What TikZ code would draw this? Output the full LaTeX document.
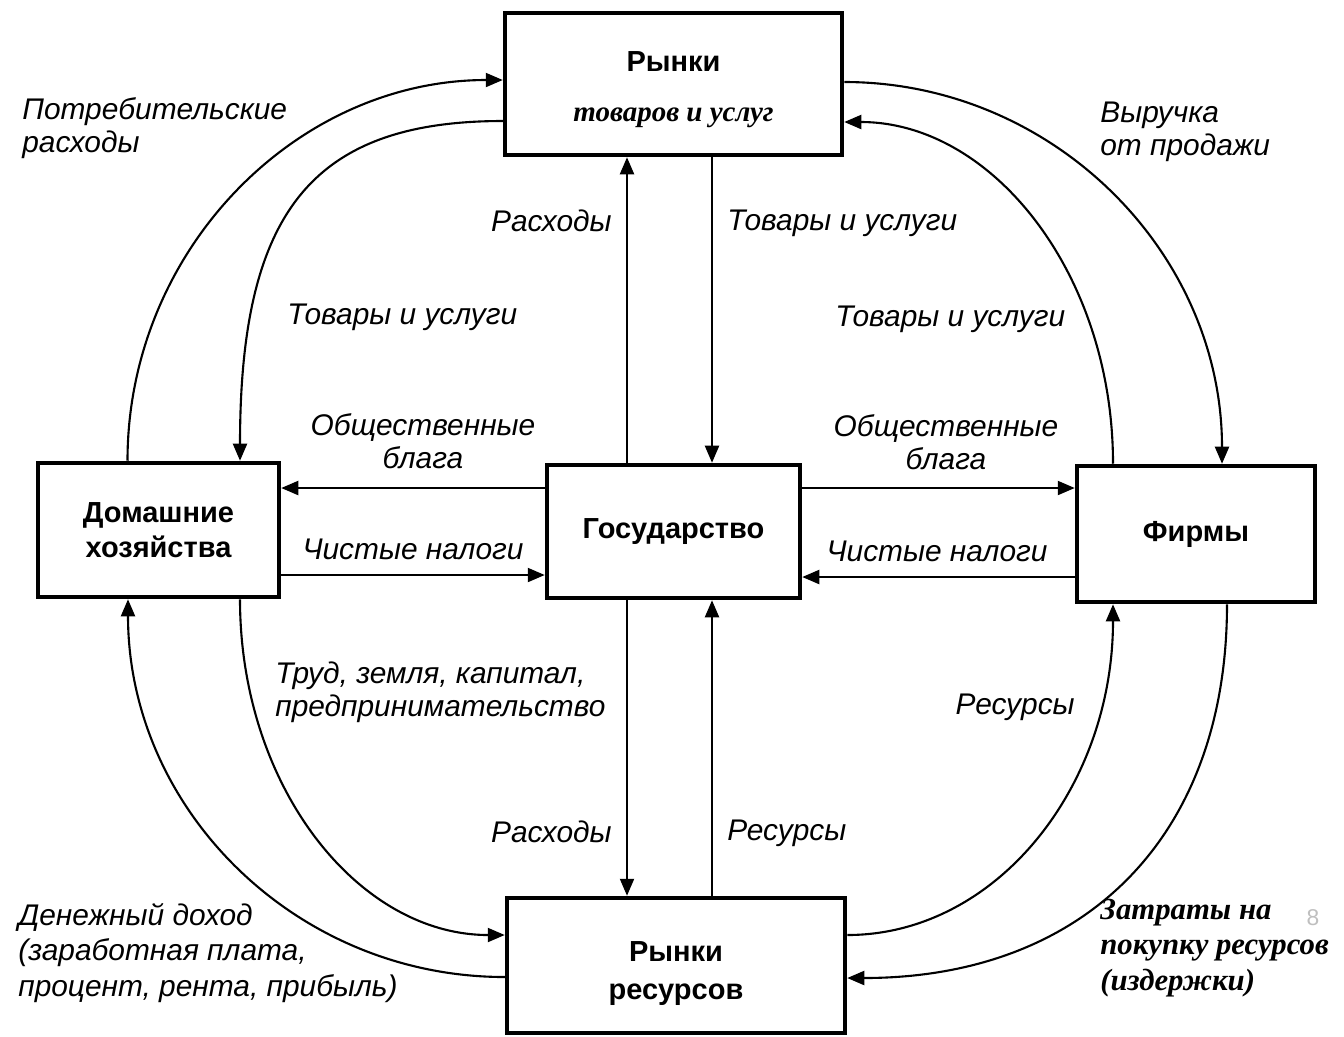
\documentclass[tikz,border=0pt]{standalone}
\usepackage{fontspec}
\setmainfont{Liberation Sans}
\newfontfamily\timesfont{Liberation Serif}
\usetikzlibrary{arrows.meta,calc}

\tikzset{
    box/.style={draw, line width=2.6pt, font=\bfseries\fontsize{16.5}{20}\selectfont, align=center},
    boxtxt/.style={font=\bfseries\fontsize{16.5}{21.5}\selectfont, align=center, inner sep=0pt},
    flow/.style={line width=1.2pt, -{Triangle[length=0.34cm,width=0.28cm]}},
    lbl/.style={font=\itshape\fontsize{17}{19}\selectfont, inner sep=0pt, align=left},
    serlbl/.style={font=\timesfont\bfseries\itshape\fontsize{17.5}{20}\selectfont, inner sep=0pt, align=left},
}

\begin{document}
\begin{tikzpicture}[x=0.02cm, y=-0.02cm]
        \useasboundingbox (0,0) rectangle (1344,1036);

        \node [box, minimum width=6.74cm, minimum height=2.84cm] (tovar) at (673.5,84) {};
        \node [boxtxt] (tovarT) at ($(tovar)+(0,5.5)$) {Рынки\\[7pt]{\timesfont\itshape товаров и услуг}};
        \node [box, minimum width=4.82cm, minimum height=2.68cm] (dom) at (158.5,530) {Домашние\\хозяйства};
        \node [box, minimum width=5.06cm, minimum height=2.66cm] (gos) at (673.5,531.5) {Государство};
        \node [box, minimum width=4.76cm, minimum height=2.72cm] (firm) at (1196,534) {Фирмы};
        \node [box, minimum width=6.76cm, minimum height=2.70cm] (res) at (676,965.5) {};
        \node [boxtxt] (resT) at ($(res)+(0,8)$) {Рынки\\ресурсов};

        % arcs between households, firms and the two markets
        \draw [flow] ($(dom.north)+(-31,0)$) .. controls +(0,-210) and +(-207,0) .. ($(tovar.west)+(0,-4)$);
        \draw [flow] ($(tovar.west)+(0,37)$) .. controls +(-192,0) and +(0,-247) .. ($(dom.north)+(81.5,0)$);
        \draw [flow] ($(tovar.east)+(0,-2)$) .. controls +(208,0) and +(0,-212) .. ($(firm.north)+(26,0)$);
        \draw [flow] ($(firm.north)+(-83,0)$) .. controls +(0,-190) and +(148,0) .. ($(tovar.east)+(0,38)$);
        \draw [flow] ($(res.west)+(0,11.5)$) .. controls +(-209,0) and +(0,210) .. ($(dom.south)+(-30.5,0)$);
        \draw [flow] ($(dom.south)+(81.5,0)$) .. controls +(0,187) and +(-147,0) .. ($(res.west)+(0,-30.5)$);
        \draw [flow] ($(res.east)+(0,-30.5)$) .. controls +(148,0) and +(0,184) .. ($(firm.south)+(-83,0)$);
        \draw [flow] ($(firm.south)+(31,0)$) .. controls +(0,233) and +(237,0) .. ($(res.east)+(0,12.5)$);

        \draw [flow] ($(gos.north)+(-46.5,0)$) coordinate (gn1) -- (gn1 |- tovar.south);
        \draw [flow] ($(tovar.south)+(38.5,0)$) coordinate (tn1) -- (tn1 |- gos.north);
        \draw [flow] ($(gos.south)+(-46.5,0)$) coordinate (gs1) -- (gs1 |- res.north);
        \coordinate (gs2) at ($(gos.south)+(38.5,0)$);
        \draw [flow] (gs2 |- res.north) -- (gs2);

        \draw [flow] ($(gos.west)+(0,-43.5)$) coordinate (gw1) -- (gw1 -| dom.east);
        \draw [flow] ($(dom.east)+(0,45)$) coordinate (de1) -- (de1 -| gos.west);
        \draw [flow] ($(gos.east)+(0,-43.5)$) coordinate (ge1) -- (ge1 -| firm.west);
        \draw [flow] ($(firm.west)+(0,43)$) coordinate (fw1) -- (fw1 -| gos.east);

        \node [lbl, anchor=west] (lPotr) at (22,128) {Потребительские\\расходы};
        \node [lbl, anchor=west] (lVyr) at (1100,132) {Выручка\\от продажи};
        \node [lbl, anchor=east] (lRasx1) at (612,221) {Расходы};
        \node [lbl, anchor=west] (lTov1) at (727,223) {Товары и услуги};
        \node [lbl, anchor=west] (lTov2) at (287,317) {Товары и услуги};
        \node [lbl, anchor=west] (lTov3) at (835,319) {Товары и услуги};
        \node [lbl, align=center] (lObsh1) at (423,441) {Общественные\\блага};
        \node [lbl, align=center] (lObsh2) at (946,442) {Общественные\\блага};
        \node [lbl] (lNal1) at (413,549) {Чистые налоги};
        \node [lbl] (lNal2) at (937,551) {Чистые налоги};
        \node [lbl, anchor=west] (lTrud) at (275,692) {Труд, земля, капитал,\\предпринимательство};
        \node [lbl, anchor=east] (lRes1) at (1075,707) {Ресурсы};
        \node [lbl, anchor=east] (lRasx2) at (612,832) {Расходы};
        \node [lbl, anchor=west] (lRes2) at (727,833) {Ресурсы};
        \node [lbl, anchor=west, font=\itshape\fontsize{17}{20}\selectfont] (lDoh) at (18,953) {Денежный доход\\(заработная плата,\\процент, рента, прибыль)};
        \node [serlbl, anchor=west] (lZatr) at (1100,948) {Затраты на\\покупку ресурсов\\(издержки)};
        \node [black!25, font=\fontsize{13}{15}\selectfont, inner sep=0pt] (pnum) at (1313,918) {8};
\end{tikzpicture}
\end{document}
